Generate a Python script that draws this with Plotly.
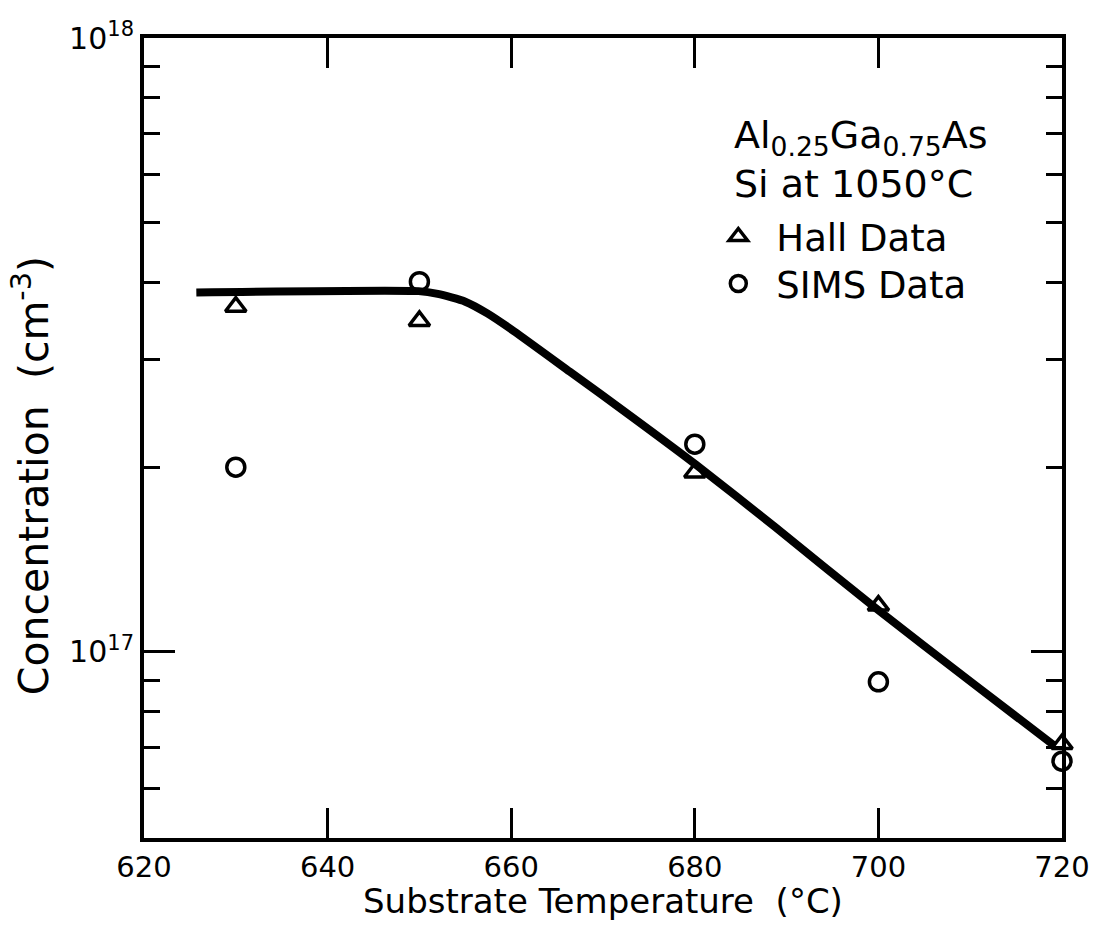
import plotly.graph_objects as go

# ---- data ----
curve_T = [625.7, 649.9, 652.0, 655.0, 657.4, 660.3, 666.4, 672.9, 680.1, 688.7, 699.5, 710.3, 719.2]
curve_C = [3.85e17, 3.87e17, 3.83e17, 3.72e17, 3.56e17, 3.33e17, 2.86e17, 2.43e17, 2.02e17, 1.60e17, 1.185e17, 8.89e16, 7.03e16]

temps = [630, 650, 680, 700, 720]
hall_C = [3.65e17, 3.46e17, 1.96e17, 1.19e17, 7.08e16]
sims_C = [2.0e17, 4.01e17, 2.18e17, 8.94e16, 6.64e16]

x_ticks = [620, 640, 660, 680, 700, 720]
y_major = [1e17, 1e18]
y_major_text = ["10<sup>17</sup>", "10<sup>18</sup>"]
y_minor = [6e16, 7e16, 8e16, 9e16, 2e17, 3e17, 4e17, 5e17, 6e17, 7e17, 8e17, 9e17]

FONT = "DejaVu Sans"

fig = go.Figure()
fig.add_trace(go.Scatter(x=curve_T, y=curve_C, mode="lines",
                         line=dict(color="black", width=8, shape="spline", smoothing=0.6),
                         showlegend=False, hoverinfo="skip"))
fig.add_trace(go.Scatter(x=temps, y=hall_C, mode="markers", name="Hall Data", legend="legend",
                         marker=dict(symbol="triangle-up-open", size=18, color="black",
                                     line=dict(width=3.5, color="black")),
                         cliponaxis=False))
fig.add_trace(go.Scatter(x=temps, y=sims_C, mode="markers", name="SIMS Data", legend="legend2",
                         marker=dict(symbol="circle-open", size=18, color="black",
                                     line=dict(width=3.5, color="black")),
                         cliponaxis=False))

leg_common = dict(x=0.606, xanchor="left", yanchor="top", bgcolor="rgba(0,0,0,0)",
                  font=dict(size=37, family=FONT), itemwidth=66)

fig.update_layout(
    width=1102, height=925,
    margin=dict(l=144, r=32, t=38, b=87),
    paper_bgcolor="white", plot_bgcolor="white",
    font=dict(family=FONT, color="black", size=34),
    legend=dict(y=0.79, **leg_common),
    legend2=dict(y=0.7313, **leg_common),
    xaxis=dict(range=[620, 720], tickvals=x_ticks, ticks="inside", ticklen=30, tickwidth=3, tickcolor="black",
               showline=True, linewidth=4, linecolor="black", mirror="ticks", showgrid=False, zeroline=False,
               tickfont=dict(size=29, family=FONT)),
    yaxis=dict(type="log", range=[16.697, 18.0], tickvals=y_major, ticktext=y_major_text, ticks="inside", ticklen=31,
               tickwidth=3, tickcolor="black", showline=True, linewidth=4, linecolor="black", mirror="ticks",
               showgrid=False, zeroline=False, tickfont=dict(size=30, family=FONT),
               minor=dict(tickvals=y_minor, ticks="inside", ticklen=16, tickwidth=3, tickcolor="black", showgrid=False)),
)

# axis titles (placed to match the reference positions)
fig.add_annotation(xref="paper", yref="paper", x=0.5, y=-0.0788, xanchor="center", yanchor="middle",
                   showarrow=False, borderpad=0, text="Substrate Temperature  (°C)", font=dict(size=34, family=FONT))
fig.add_annotation(xref="paper", yref="paper", x=-0.1235, y=0.453, xanchor="center", yanchor="middle",
                   showarrow=False, textangle=-90,
                   text="Concentration  (cm<sup>-3</sup>)", font=dict(size=41, family=FONT))

fig.add_annotation(xref="paper", yref="paper", x=0.6405, y=0.909, xanchor="left", yanchor="top", showarrow=False,
                   text="Al<sub>0.25</sub>Ga<sub>0.75</sub>As", font=dict(size=38, family=FONT), align="left")
fig.add_annotation(xref="paper", yref="paper", x=0.6405, y=0.8475, xanchor="left", yanchor="top", showarrow=False,
                   text="Si at 1050°C", font=dict(size=38, family=FONT), align="left")

fig.write_html("out.html")
